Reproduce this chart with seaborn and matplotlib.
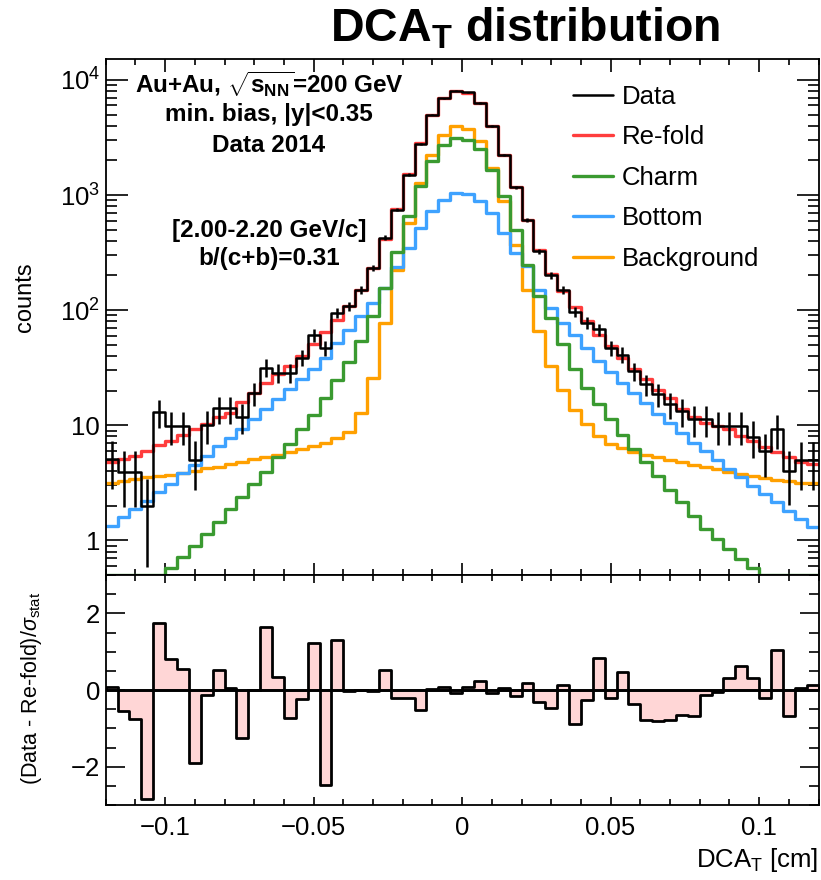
import numpy as np
import pandas as pd
import matplotlib
matplotlib.use("Agg")
import matplotlib.pyplot as plt
import matplotlib.ticker as mticker
from matplotlib.lines import Line2D
import seaborn as sns

# ---------------- data ----------------
bin_edges = np.round(np.arange(-0.12, 0.12001, 0.004), 4)

data_counts = [5.07, 3.94, 3.94, 2.0, 13.0, 9.86, 9.86, 5.0, 10.1, 14.0,
               14.0, 11.9, 18.9, 31.7, 28.6, 28.6, 38.6, 60.4, 47.2, 95,
               108, 151, 233, 425, 747, 1503, 2790, 4980, 6950, 8040,
               7780, 6290, 4000, 2240, 1167, 612, 325, 200, 149, 97,
               78, 68, 47, 41, 29.6, 22.7, 18.6, 15.2, 13.3, 11.3,
               11.3, 9.86, 9.86, 9.86, 7.98, 5.98, 9.23, 4.02, 4.97, 4.97]

data_errors = [2.25, 1.98, 1.98, 1.41, 3.61, 3.14, 3.14, 2.24, 3.18, 3.74,
               3.74, 3.45, 4.35, 5.63, 5.35, 5.35, 6.21, 7.77, 6.87, 9.75,
               10.4, 12.3, 15.3, 20.6, 27.3, 38.8, 52.8, 70.6, 83.4, 89.7,
               88.2, 79.3, 63.2, 47.3, 34.2, 24.7, 18.0, 14.1, 12.2, 9.85,
               8.83, 8.25, 6.86, 6.40, 5.44, 4.76, 4.31, 3.90, 3.65, 3.36,
               3.36, 3.14, 3.14, 3.14, 2.82, 2.45, 3.04, 2.0, 2.23, 2.23]

refold = [4.75, 5.07, 5.42, 5.98, 6.71, 7.31, 8.19, 9.23, 10.2, 11.7,
          12.9, 15.9, 19.2, 23.5, 27.7, 32.7, 39.9, 50.4, 64.5, 82,
          108, 151, 233, 414, 753, 1512, 2818, 4978, 6943, 8045,
          7773, 6271, 4004, 2238, 1172, 608, 331, 206, 147, 106,
          80, 61, 48.7, 38.6, 30.6, 25.1, 20.1, 17.4, 13.8, 11.9,
          10.5, 9.86, 9.23, 8.08, 7.31, 6.41, 5.8, 5.25, 4.81, 4.59]

charm = [0.30, 0.34, 0.38, 0.43, 0.49, 0.58, 0.71, 0.90, 1.13, 1.43,
         1.87, 2.36, 3.08, 3.94, 5.25, 6.84, 9.23, 12.2, 17.4, 24.6,
         35.4, 53.8, 88.7, 156, 320, 653, 1189, 1960, 2735, 3126,
         3020, 2510, 1660, 975, 501, 249, 132, 86, 51, 31,
         21.2, 15.2, 11.3, 8.19, 6.19, 4.75, 3.63, 2.73, 2.14, 1.63,
         1.25, 1.03, 0.84, 0.69, 0.57, 0.49, 0.43, 0.38, 0.34, 0.30]

bottom = [1.34, 1.58, 1.87, 2.2, 2.61, 3.08, 3.83, 4.5, 5.42, 6.61,
          7.82, 9.36, 11.3, 13.8, 16.8, 20.5, 25.4, 31, 38.6, 52,
          67, 88.7, 116, 156, 235, 348, 519, 722, 912, 1043,
          1023, 881, 700, 469, 315, 241, 151, 105, 78, 61,
          47.2, 36.1, 29, 23.5, 19.2, 15.7, 12.6, 10.4, 8.64, 7.08,
          5.98, 4.97, 4.15, 3.52, 2.98, 2.52, 2.14, 1.81, 1.53, 1.30]

background = [3.14, 3.29, 3.40, 3.52, 3.63, 3.71, 3.83, 4.02, 4.21, 4.38,
              4.59, 4.81, 5.07, 5.31, 5.49, 5.87, 6.19, 6.61, 6.98, 7.82,
              8.75, 12.9, 25.9, 77.8, 225, 573, 1274, 2240, 3340, 3945,
              3767, 2924, 1719, 881, 371, 151, 66, 32.7, 20.2, 13.5,
              10.2, 8.08, 6.84, 6.32, 5.87, 5.49, 5.25, 4.97, 4.75, 4.5,
              4.30, 4.15, 3.94, 3.76, 3.63, 3.47, 3.33, 3.29, 3.18, 3.12]

pull = [0.09, -0.55, -0.76, -2.85, 1.75, 0.82, 0.56, -1.9, -0.14, 0.52,
        0.05, -1.24, 0.0, 1.65, 0.33, -0.72, -0.24, 1.22, -2.49, 1.31,
        -0.03, 0.0, -0.02, 0.52, -0.22, -0.22, -0.53, 0.03, 0.09, -0.07,
        0.08, 0.24, -0.07, 0.04, -0.15, 0.17, -0.31, -0.46, 0.14, -0.89,
        -0.27, 0.84, -0.2, 0.46, -0.36, -0.78, -0.82, -0.78, -0.66, -0.68,
        -0.14, -0.05, 0.31, 0.63, 0.31, -0.2, 1.04, -0.69, 0.04, 0.14]

legend_labels = ["Data", "Re-fold", "Charm", "Bottom", "Background"]
xtick_vals = [-0.1, -0.05, 0, 0.05, 0.1]
xtick_labels = ["\u22120.1", "\u22120.05", "0", "0.05", "0.1"]
ytick_vals = [1, 10, 100, 1000, 10000]
ytick_labels = ["1", "10", r"$10^{2}$", r"$10^{3}$", r"$10^{4}$"]
ratio_ticks = [-2, 0, 2]
ratio_labels = ["\u22122", "0", "2"]

# ---------------- style ----------------
sns.set_theme(style="ticks")
plt.rcParams["font.family"] = ["Liberation Sans", "DejaVu Sans"]
plt.rcParams["mathtext.fontset"] = "custom"
plt.rcParams["mathtext.rm"] = "Liberation Sans"
plt.rcParams["mathtext.it"] = "Liberation Sans:italic"
plt.rcParams["mathtext.bf"] = "Liberation Sans:bold"
plt.rcParams["axes.linewidth"] = 1.3
for k in ["text.color", "axes.labelcolor", "xtick.color", "ytick.color",
          "axes.edgecolor", "xtick.labelcolor", "ytick.labelcolor"]:
    plt.rcParams[k] = "black"

C_DATA = "black"
C_REFOLD = "#ff3d3d"
C_CHARM = "#3a9a30"
C_BOTTOM = "#3ea2ff"
C_BKG = "#ffa000"
C_PULL = "#ffd6d6"

W, H = 821, 880
fig = plt.figure(figsize=(W / 100, H / 100), dpi=100)
fig.patch.set_facecolor("white")

L, R = 105.7, 818.5
ax1 = fig.add_axes([L / W, 1 - 575 / H, (R - L) / W, 516 / H])
ax2 = fig.add_axes([L / W, 1 - 805 / H, (R - L) / W, 230 / H])

centers = 0.5 * (bin_edges[:-1] + bin_edges[1:])
bins_list = [float(b) for b in bin_edges]
YMIN, YMAX = 0.5, 1.52e4

series = [
    (background, C_BKG, 2.4),
    (bottom, C_BOTTOM, 2.4),
    (charm, C_CHARM, 2.4),
    (refold, C_REFOLD, 2.4),
    (data_counts, C_DATA, 1.8),
]
for vals, col, lw in series:
    shown = np.maximum(np.asarray(vals, dtype=float), YMIN * 1.005)
    df = pd.DataFrame({"dca": centers, "w": shown})
    sns.histplot(data=df, x="dca", weights="w", bins=bins_list, element="step",
                 fill=False, color=col, linewidth=lw, ax=ax1)

ax1.errorbar(centers, data_counts, yerr=data_errors, fmt="none",
             ecolor="black", elinewidth=1.8, capsize=0, zorder=5)

ax1.set_yscale("log")
ax1.set_xlim(-0.12, 0.12)
ax1.set_ylim(YMIN, YMAX)
ax1.set_xlabel("")
ax1.set_ylabel("")
ax1.yaxis.set_major_locator(mticker.FixedLocator(ytick_vals))
ax1.yaxis.set_major_formatter(mticker.FixedFormatter(ytick_labels))
ax1.yaxis.set_minor_locator(mticker.LogLocator(base=10, subs=np.arange(2, 10), numticks=20))
ax1.yaxis.set_minor_formatter(mticker.NullFormatter())
ax1.xaxis.set_major_locator(mticker.FixedLocator(xtick_vals))
ax1.xaxis.set_minor_locator(mticker.MultipleLocator(0.01))
ax1.tick_params(axis="x", which="both", labelbottom=False)
ax1.tick_params(which="both", direction="in", top=True, right=True, color="black", width=1.2)
ax1.tick_params(axis="y", which="major", length=16, labelsize=18.5, pad=4)
ax1.tick_params(axis="y", which="minor", length=8)
ax1.tick_params(axis="x", which="major", length=9)
ax1.tick_params(axis="x", which="minor", length=4.5)

# ---------------- lower panel ----------------
dfp = pd.DataFrame({"dca": centers, "pull": pull})
sns.histplot(data=dfp, x="dca", weights="pull", bins=bins_list, element="step",
             fill=True, color=C_PULL, edgecolor="black", alpha=1.0,
             linewidth=2.0, ax=ax2)
ax2.axhline(0, color="black", lw=1.8, zorder=3)
ax2.set_xlim(-0.12, 0.12)
ax2.set_ylim(-3, 3)
ax2.set_xlabel("")
ax2.set_ylabel("")
ax2.xaxis.set_major_locator(mticker.FixedLocator(xtick_vals))
ax2.xaxis.set_major_formatter(mticker.FixedFormatter(xtick_labels))
ax2.xaxis.set_minor_locator(mticker.MultipleLocator(0.01))
ax2.yaxis.set_major_locator(mticker.FixedLocator(ratio_ticks))
ax2.yaxis.set_major_formatter(mticker.FixedFormatter(ratio_labels))
ax2.yaxis.set_minor_locator(mticker.MultipleLocator(0.5))
ax2.tick_params(which="both", direction="in", top=True, right=True, color="black", width=1.2)
ax2.tick_params(axis="y", which="major", length=14, labelsize=18.5, pad=4)
ax2.tick_params(axis="y", which="minor", length=7)
ax2.tick_params(axis="x", which="major", length=6, labelsize=18.5, pad=8)
ax2.tick_params(axis="x", which="minor", length=4)
for a in (ax1, ax2):
    for s in a.spines.values():
        s.set_color("black")
        s.set_linewidth(1.3)

# ---------------- texts ----------------
def ft(x, y, s, **kw):
    fig.text(x / W, 1 - y / H, s, **kw)

ft(525, 29, r"DCA$_\mathbf{T}$ distribution", ha="center", va="center",
   fontsize=33.5, fontweight="bold")

tkw = dict(ha="center", va="center", fontsize=17.5, fontweight="bold")
ft(269, 84, r"Au+Au, $\sqrt{\mathbf{s}_{\mathbf{NN}}}$=200 GeV", **tkw)
ft(269, 115, "min. bias, |y|<0.35", **tkw)
ft(269, 145, "Data 2014", **tkw)
ft(269, 231, "[2.00-2.20 GeV/c]", **tkw)
ft(269, 259, "b/(c+b)=0.31", **tkw)

ft(25, 297, "counts", rotation=90, ha="center", va="center", fontsize=17)
ft(32, 688, r"(Data - Re-fold)/$\sigma_{\rm stat}$", rotation=90,
   ha="center", va="center", fontsize=15.5)
ft(818, 860, r"DCA$_{\rm T}$ [cm]", ha="right", va="center", fontsize=18.5)

handles = [Line2D([0], [0], color=c, lw=2.4 if c != C_DATA else 1.8)
           for c in [C_DATA, C_REFOLD, C_CHARM, C_BOTTOM, C_BKG]]
fig.legend(handles, legend_labels, loc="upper left",
           bbox_to_anchor=(573 / W, 1 - 85 / H), frameon=False,
           fontsize=18.5, handlelength=1.55, handletextpad=0.35,
           labelspacing=0.64, borderpad=0, borderaxespad=0)

fig.savefig("out.png", dpi=100, facecolor="white")
